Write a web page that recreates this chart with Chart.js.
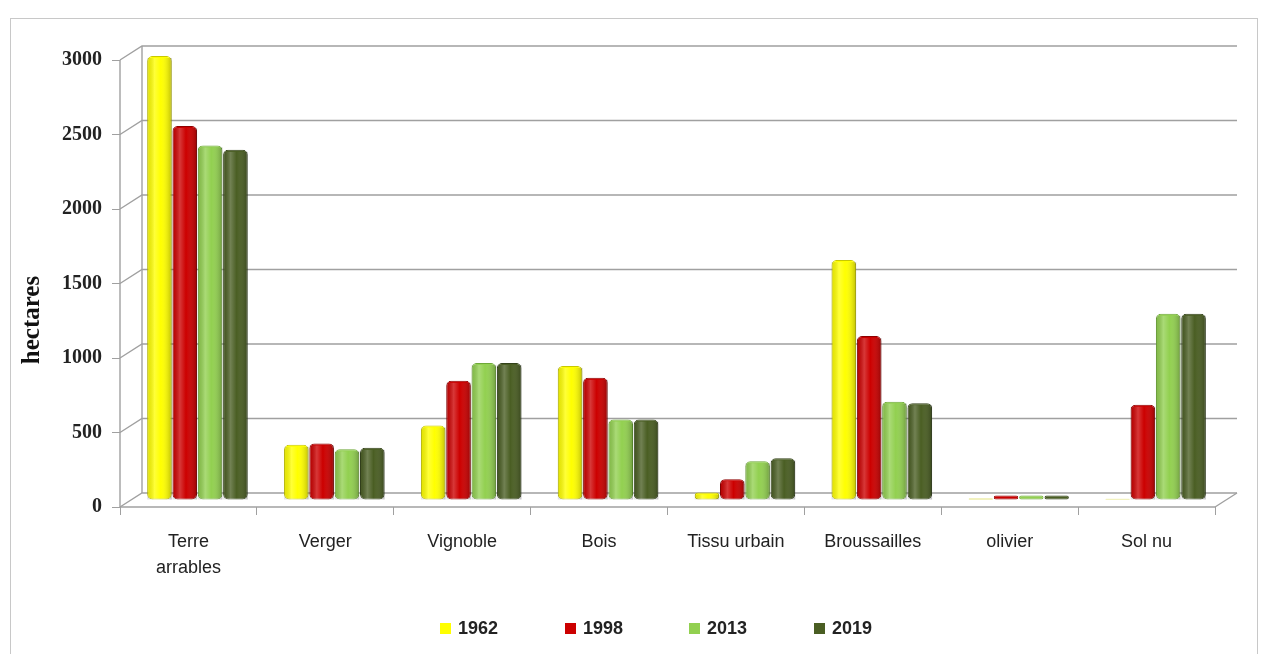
<!DOCTYPE html>
<html>
<head>
<meta charset="utf-8">
<script src="https://cdn.jsdelivr.net/npm/chart.js@4.4.1/dist/chart.umd.min.js"></script>
<style>
  html, body { margin: 0; padding: 0; background: #fff; }
  #frame { position: absolute; left: 10px; top: 18px; width: 1248px; height: 660px; border: 1px solid #c8c8c8; box-sizing: border-box; }
  #wrap { position: absolute; left: 0; top: 0; width: 1271px; height: 654px; }
</style>
</head>
<body>
<div id="frame"></div>
<div id="wrap"><canvas id="c" width="1271" height="654"></canvas></div>
<script>
const categories = [["Terre", "arrables"], "Verger", "Vignoble", "Bois", "Tissu urbain", "Broussailles", "olivier", "Sol nu"];
const years = ["1962", "1998", "2013", "2019"];
const v1962 = [2980, 370, 500, 900, 50, 1610, 10, 8];
const v1998 = [2510, 380, 800, 820, 140, 1100, 30, 640];
const v2013 = [2380, 340, 920, 540, 260, 660, 30, 1250];
const v2019 = [2350, 350, 920, 540, 280, 650, 30, 1250];
const yTicks = [0, 500, 1000, 1500, 2000, 2500, 3000];
const yTitle = "hectares";

const colors = ["#FFFF00", "#CC0000", "#92D050", "#4A5E23"];
const edges = ["#C8C800", "#8E0000", "#6EA838", "#33421A"];
const series = [v1962, v1998, v2013, v2019];

const DX = 22, DY = 14;   // depth offset of the back wall
const BX = 9, BY = 7;     // bars sit at mid-depth

const wallPlugin = {
  id: 'wall',
  beforeDatasetsDraw(chart) {
    const ctx = chart.ctx;
    const y = chart.scales.y;
    const a = chart.chartArea;
    const p0 = y.getPixelForValue(0);
    const pTop = y.getPixelForValue(3000);
    ctx.save();
    ctx.strokeStyle = '#a0a0a0';
    ctx.lineWidth = 1.4;
    yTicks.forEach(v => {
      const py = y.getPixelForValue(v);
      ctx.beginPath();
      ctx.moveTo(a.left, py);
      ctx.lineTo(a.left + DX, py - DY);
      ctx.lineTo(a.right + DX, py - DY);
      ctx.stroke();
    });
    ctx.beginPath();
    ctx.moveTo(a.left + DX, pTop - DY);
    ctx.lineTo(a.left + DX, p0 - DY);
    ctx.stroke();
    ctx.beginPath();
    ctx.moveTo(a.right, p0);
    ctx.lineTo(a.right + DX, p0 - DY);
    ctx.stroke();
    ctx.beginPath();
    ctx.moveTo(a.left, p0);
    ctx.lineTo(a.right, p0);
    ctx.stroke();
    ctx.beginPath();
    ctx.moveTo(a.left, pTop);
    ctx.lineTo(a.left, p0);
    ctx.stroke();
    ctx.restore();
    // shift the bars to mid-depth
    ctx.save();
    ctx.translate(BX, -BY);
  },
  afterDatasetsDraw(chart) {
    const ctx = chart.ctx;
    chart.data.datasets.forEach((d, i) => {
      chart.getDatasetMeta(i).data.forEach(bar => {
        const x0 = bar.x - bar.width / 2, x1 = bar.x + bar.width / 2;
        const top = Math.min(bar.y, bar.base), bot = Math.max(bar.y, bar.base);
        if (bot - top < 4) return;
        const g = ctx.createLinearGradient(x0, 0, x1, 0);
        g.addColorStop(0, 'rgba(0,0,0,0.10)');
        g.addColorStop(0.3, 'rgba(255,255,255,0.22)');
        g.addColorStop(0.55, 'rgba(255,255,255,0)');
        g.addColorStop(1, 'rgba(0,0,0,0.25)');
        ctx.fillStyle = g;
        ctx.fillRect(x0, top + 2, bar.width, bot - top - 2);
      });
    });
    ctx.restore();
  },
  afterDraw(chart) {
    const ctx = chart.ctx;
    // y-axis title
    ctx.save();
    ctx.translate(33, 320);
    ctx.rotate(-Math.PI / 2);
    ctx.font = "bold 25px 'Liberation Serif', serif";
    ctx.fillStyle = '#111';
    ctx.textAlign = 'center';
    ctx.textBaseline = 'middle';
    ctx.fillText(yTitle, 0, 0);
    ctx.restore();
    // legend
    const xs = [440, 565, 689, 814];
    const yc = 628;
    ctx.save();
    ctx.font = "bold 18px 'Liberation Sans', sans-serif";
    ctx.textBaseline = 'middle';
    ctx.textAlign = 'left';
    chart.data.datasets.forEach((d, i) => {
      ctx.fillStyle = colors[i];
      ctx.fillRect(xs[i], yc - 5, 11, 11);
      ctx.fillStyle = '#222';
      ctx.fillText(d.label, xs[i] + 18, yc + 1);
    });
    ctx.restore();
  }
};

new Chart(document.getElementById('c'), {
  type: 'bar',
  data: {
    labels: categories,
    datasets: years.map((yr, i) => ({
      label: yr,
      data: series[i],
      backgroundColor: colors[i],
      borderColor: edges[i],
      borderWidth: 1,
      borderRadius: 5,
      borderSkipped: false,
      categoryPercentage: 0.74,
      barPercentage: 0.97
    }))
  },
  options: {
    responsive: false,
    animation: false,
    layout: { padding: { left: 20, top: 60, right: 56, bottom: 65 } },
    scales: {
      x: {
        grid: { display: true, drawOnChartArea: false, drawTicks: true, tickLength: 8, color: '#a0a0a0', offset: true },
        border: { display: false },
        ticks: { color: '#222', font: { family: "'Liberation Sans', sans-serif", size: 18, lineHeight: 1.45 }, padding: 14, maxRotation: 0, autoSkip: false },
        afterFit(s) { s.height = 82; }
      },
      y: {
        min: 0, max: 3000,
        afterBuildTicks(s) { s.ticks = yTicks.map(v => ({ value: v })); },
        grid: { display: true, drawOnChartArea: false, drawTicks: true, tickLength: 8, color: '#a0a0a0' },
        border: { display: false },
        ticks: { color: '#222', font: { family: "'Liberation Serif', serif", size: 20, weight: 'bold' }, padding: 10, callback: v => String(v) },
        title: { display: false },
        afterFit(s) { s.width = 100; }
      }
    },
    plugins: {
      legend: { display: false },
      tooltip: { enabled: false }
    }
  },
  plugins: [wallPlugin]
});
</script>
</body>
</html>
